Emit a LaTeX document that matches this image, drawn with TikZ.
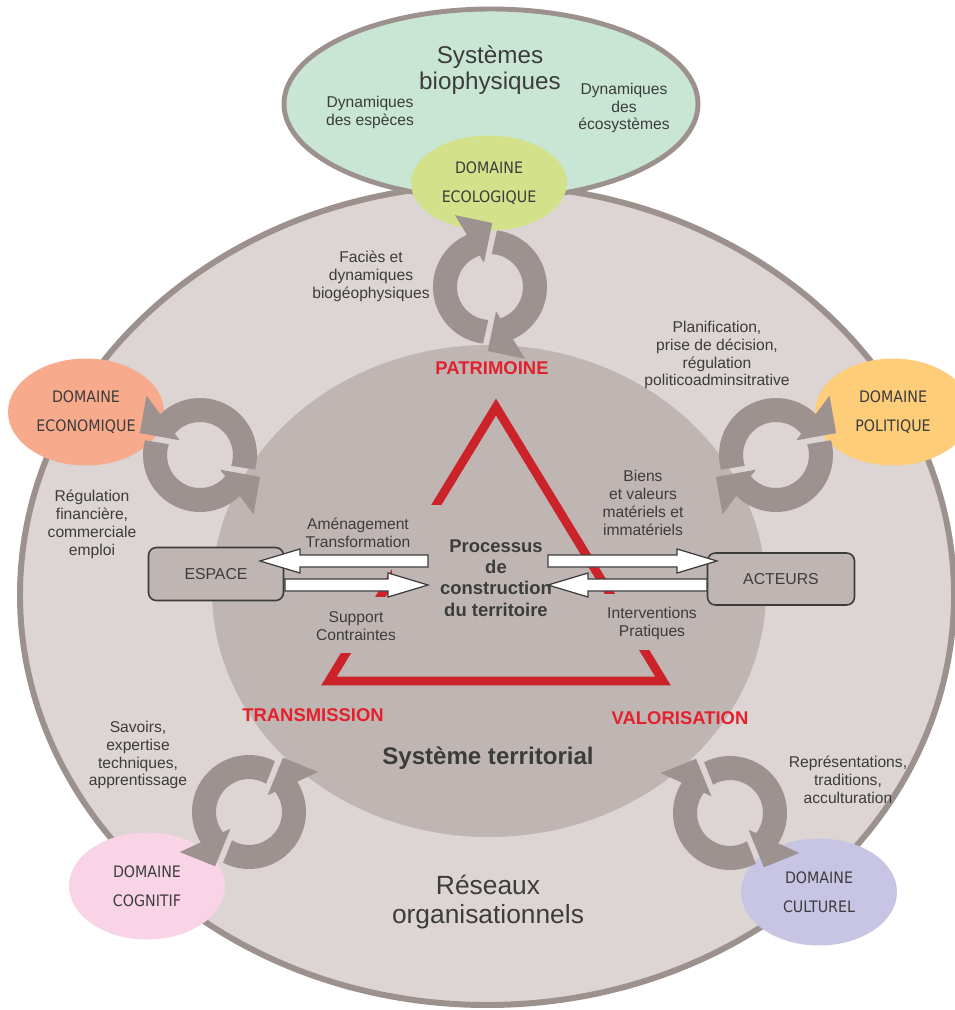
\documentclass[tikz,border=0pt]{standalone}
\usepackage{fontspec}
\setmainfont{Liberation Sans}
\newfontfamily\domainfont{DejaVu Sans Condensed}
\usetikzlibrary{shapes.geometric}

\definecolor{outerfill}{HTML}{DCD5D3}
\definecolor{outerline}{HTML}{9D918E}
\definecolor{innerfill}{HTML}{BFB6B4}
\definecolor{biofill}{HTML}{C9E6D4}
\definecolor{ecofill}{HTML}{D3E28A}
\definecolor{econfill}{HTML}{F8AA8C}
\definecolor{polfill}{HTML}{FDCD7A}
\definecolor{cogfill}{HTML}{F8D4E6}
\definecolor{culfill}{HTML}{C7C5E3}
\definecolor{ringgrey}{HTML}{9E9290}
\definecolor{trired}{HTML}{CC2229}
\definecolor{labelred}{HTML}{E3202B}
\definecolor{textgrey}{HTML}{3C3C3C}

\tikzset{
  domainnode/.style={ellipse, minimum width=3.12cm, minimum height=2.14cm, inner sep=0pt, align=center, text=textgrey, font={\domainfont\fontsize{9}{16.4}\selectfont}},
  lbl/.style={align=center, text=textgrey, inner sep=0pt, font=\fontsize{8.9}{10.2}\selectfont},
  title/.style={align=center, text=textgrey, inner sep=0pt, font=\fontsize{13.8}{14.8}\selectfont},
  keyword/.style={text=labelred, inner sep=0pt, font=\bfseries\fontsize{10.5}{12}\selectfont},
  boxnode/.style={draw=textgrey, line width=0.9pt, fill=innerfill, rounded corners=4.5pt, text=textgrey, font=\fontsize{9}{11}\selectfont},
  blockarrow/.style={draw=textgrey, line width=0.7pt, fill=white, line join=miter},
  hider/.style={fill=innerfill}
}

% white block arrow: tail x, tip x, y
\newcommand{\blockarrow}[3]{%
  \pgfmathsetmacro{\arrowbase}{#2-40*sign(#2-#1)}%
  \draw[blockarrow] (#1,-#3+6) -- (\arrowbase,-#3+6) -- (\arrowbase,-#3+12) -- (#2,-#3)
    -- (\arrowbase,-#3-12) -- (\arrowbase,-#3-6) -- (#1,-#3-6) -- cycle;}

% pair of circular arrows: centre x, centre y, angle of head, 1 = clockwise / -1 = anticlockwise
\newcommand{\cyclearrows}[4]{%
  \begin{scope}[shift={(#1,-#2)}, rotate=#3, yscale=#4]
    \foreach \turn in {0,180}{
      \fill[ringgrey, rotate=\turn] (147:57) arc[start angle=147, end angle=-12, radius=57]
        -- (-12:33) arc[start angle=-12, end angle=151, radius=33] -- cycle;
      \fill[ringgrey, rotate=\turn] (0:80) -- (-28:64) -- (-12:25) -- cycle;
    }
  \end{scope}}

\begin{document}
\begin{tikzpicture}[x=0.02cm, y=0.02cm]
\clip (0,0) rectangle (955,-1010);
\fill[white] (0,0) rectangle (955,-1010);

% systeme territorial
\draw[outerline, line width=3.4pt, fill=outerfill] (487,-595) ellipse [x radius=467, y radius=410];
\draw[outerline, line width=2.8pt, fill=biofill] (491,-104) ellipse [x radius=207, y radius=95];
\fill[innerfill] (489,-591) ellipse [x radius=277, y radius=246];

% triangle
\draw[trired, line width=5pt, line join=miter] (496,-407) -- (663,-681) -- (329,-681) -- cycle;
\fill[hider] (392,-505) rectangle (550,-650);
\fill[hider] (300,-597) rectangle (402,-653);
\fill[hider] (598,-594) rectangle (705,-650);

% domaines
\node[domainnode, fill=ecofill, minimum height=1.9cm] (ecologique) at (489,-183) {DOMAINE\\ECOLOGIQUE};
\node[domainnode, fill=econfill] (economique) at (86,-412) {DOMAINE\\ECONOMIQUE};
\node[domainnode, fill=polfill] (politique) at (893,-412) {DOMAINE\\POLITIQUE};
\node[domainnode, fill=cogfill] (cognitif) at (147,-886) {DOMAINE\\COGNITIF};
\node[domainnode, fill=culfill] (culturel) at (819,-892) {DOMAINE\\CULTUREL};

% espace, acteurs
\node[boxnode, minimum width=2.7cm, minimum height=1.06cm] (espace) at (216,-574) {ESPACE};
\node[boxnode, minimum width=2.94cm, minimum height=1.04cm] (acteurs) at (781,-579) {ACTEURS};
\blockarrow{428}{260}{561}
\blockarrow{285}{428}{585}
\blockarrow{548}{717}{561}
\blockarrow{707}{548}{585}

% fleches circulaires
\cyclearrows{490}{287}{116}{1}
\cyclearrows{200}{455}{132}{-1}
\cyclearrows{776}{455}{48}{1}
\cyclearrows{249}{812}{30}{-1}
\cyclearrows{730}{813}{150}{1}

% textes
\node[title] (biophys) at (490,-70) {Systèmes\\biophysiques};
\node[lbl] (especes) at (370,-112) {Dynamiques\\des espèces};
\node[lbl] (ecosys) at (624,-108) {Dynamiques\\des\\écosystèmes};
\node[lbl] (facies) at (371,-276) {Faciès et\\dynamiques\\biogéophysiques};
\node[keyword] (patrimoine) at (492,-368) {PATRIMOINE};
\node[lbl] (planif) at (717,-355) {Planification,\\prise de décision,\\régulation\\politicoadminsitrative};
\node[lbl] (regfin) at (92,-524) {Régulation\\financière,\\commerciale\\emploi};
\node[lbl] (biens) at (643,-503) {Biens\\et valeurs\\matériels et\\immatériels};
\node[lbl] (amenag) at (358,-533) {Aménagement\\Transformation};
\node[align=center, text=textgrey, inner sep=0pt, font=\bfseries\fontsize{10.5}{12.2}\selectfont] (processus) at (496,-578) {Processus\\de\\construction\\du territoire};
\node[lbl] (support) at (356,-626) {Support\\Contraintes};
\node[lbl] (interv) at (652,-623) {Interventions\\Pratiques};
\node[keyword] (transmission) at (313,-715) {TRANSMISSION};
\node[keyword] (valorisation) at (680,-718) {VALORISATION};
\node[text=textgrey, inner sep=0pt, font=\bfseries\fontsize{13.7}{16}\selectfont] (systeme) at (488,-758) {Système territorial};
\node[lbl] (savoirs) at (138,-755) {Savoirs,\\expertise\\techniques,\\apprentissage};
\node[lbl] (represent) at (848,-780) {Représentations,\\traditions,\\acculturation};
\node[title, font=\fontsize{15}{17}\selectfont] (reseaux) at (488,-902) {Réseaux\\organisationnels};
\end{tikzpicture}
\end{document}
